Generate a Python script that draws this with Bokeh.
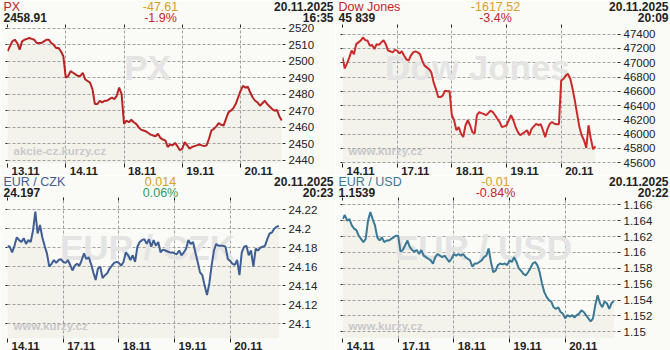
from bokeh.plotting import figure
from bokeh.models import Label, FixedTicker, LinearAxis, Range1d
from bokeh.core.properties import value
from bokeh.layouts import gridplot
from bokeh.embed import file_html
from bokeh.resources import INLINE

# ---------------- data ----------------
px_days = ["13.11", "14.11", "18.11", "19.11", "20.11"]
px_d1 = [2506, 2509, 2512, 2513, 2511, 2507, 2512, 2513, 2513.5, 2514, 2513.5, 2513, 2511, 2511, 2511, 2512, 2513, 2513, 2511, 2510, 2508, 2508, 2506, 2503]
px_d2 = [2490, 2491, 2494, 2493, 2492, 2491, 2491, 2493, 2489, 2488, 2487, 2483, 2474, 2474, 2476, 2475, 2476, 2476, 2477, 2478, 2477, 2479, 2484, 2480]
px_d3 = [2462, 2464, 2463, 2464.5, 2463, 2462, 2460, 2458.5, 2458, 2457.5, 2456.5, 2455.5, 2455, 2454.5, 2456, 2453.5, 2452.5, 2452, 2448, 2449.5, 2449, 2450.5, 2448.5, 2446]
px_d4 = [2447, 2451, 2449, 2447, 2448, 2448.5, 2449, 2449.5, 2449, 2448.5, 2449, 2453, 2458, 2459, 2460.5, 2462.5, 2461.5, 2461, 2465, 2469, 2470, 2471.5, 2474, 2478]
px_d5 = [2482, 2485, 2484, 2484.5, 2481, 2478, 2476, 2475, 2473, 2474.5, 2476, 2474, 2472.5, 2471, 2470, 2470.5, 2466.5, 2464]
px_ticks = [2440, 2450, 2460, 2470, 2480, 2490, 2500, 2510, 2520]
px_tick_labels = ["2440", "2450", "2460", "2470", "2480", "2490", "2500", "2510", "2520"]

dj_days = ["14.11", "17.11", "18.11", "19.11", "20.11"]
dj_d1 = [47075, 46920, 46990, 47075, 47170, 47120, 47260, 47285, 47310, 47355, 47315, 47310, 47240, 47250, 47190, 47260, 47250, 47285, 47315, 47260, 47170, 47160, 47145, 47180]
dj_d2 = [47170, 47130, 47160, 47100, 47050, 47030, 47100, 47145, 47160, 47145, 47120, 47030, 46960, 46935, 46910, 46865, 46725, 46635, 46520, 46520, 46540, 46610, 46600, 46600]
dj_d3 = [46265, 46195, 46055, 46100, 46010, 45960, 46125, 46195, 46125, 46030, 46010, 46265, 46310, 46295, 46285, 46265, 46295, 46330, 46310, 46265, 46215, 46170, 46100, 46110]
dj_d4 = [46125, 46195, 46265, 46195, 46100, 46030, 45985, 46010, 46030, 46055, 45985, 46075, 46110, 46145, 46125, 46140, 46055, 45960, 46075, 46145, 46170, 46145, 46140, 46140]
dj_d5 = [46750, 46775, 46820, 46845, 46775, 46635, 46470, 46285, 46100, 45985, 45915, 45810, 46125, 45940, 45790, 45830]
dj_ticks = [45600, 45800, 46000, 46200, 46400, 46600, 46800, 47000, 47200, 47400]
dj_tick_labels = ["45600", "45800", "46000", "46200", "46400", "46600", "46800", "47000", "47200", "47400"]

cz_days = ["14.11", "17.11", "18.11", "19.11", "20.11"]
cz_d1 = [24.182, 24.181, 24.175, 24.182, 24.191, 24.188, 24.186, 24.19, 24.184, 24.188, 24.186, 24.198, 24.218, 24.195, 24.204, 24.191, 24.182, 24.174, 24.16, 24.163, 24.167, 24.164, 24.167, 24.168]
cz_d2 = [24.165, 24.164, 24.167, 24.162, 24.156, 24.161, 24.163, 24.161, 24.167, 24.174, 24.168, 24.17, 24.163, 24.154, 24.146, 24.158, 24.16, 24.148, 24.151, 24.153, 24.158, 24.161, 24.164, 24.165]
cz_d3 = [24.164, 24.161, 24.165, 24.175, 24.172, 24.167, 24.172, 24.165, 24.181, 24.186, 24.188, 24.189, 24.184, 24.189, 24.181, 24.188, 24.182, 24.186, 24.175, 24.178, 24.177, 24.176, 24.175, 24.175]
cz_d4 = [24.174, 24.173, 24.177, 24.172, 24.175, 24.179, 24.188, 24.184, 24.186, 24.175, 24.165, 24.154, 24.151, 24.14, 24.13, 24.142, 24.161, 24.177, 24.184, 24.182, 24.182, 24.182, 24.181, 24.168]
cz_d5 = [24.166, 24.163, 24.162, 24.167, 24.151, 24.175, 24.181, 24.182, 24.172, 24.177, 24.16, 24.179, 24.177, 24.18, 24.181, 24.182, 24.189, 24.195, 24.196, 24.2, 24.202, 24.203]
cz_ticks = [24.1, 24.12, 24.14, 24.16, 24.18, 24.2, 24.22]
cz_tick_labels = ["24.1", "24.12", "24.14", "24.16", "24.18", "24.2", "24.22"]

us_days = ["14.11", "17.11", "18.11", "19.11", "20.11"]
us_d1 = [1.1642, 1.1647, 1.164, 1.1642, 1.1634, 1.163, 1.1628, 1.1621, 1.1617, 1.1613, 1.1617, 1.164, 1.1651, 1.1642, 1.1634, 1.1619, 1.1615, 1.1619, 1.1613, 1.1615, 1.1615, 1.1617, 1.1619, 1.1621]
us_d2 = [1.1621, 1.1601, 1.1603, 1.1609, 1.1615, 1.1607, 1.1603, 1.1601, 1.1603, 1.1598, 1.1603, 1.1596, 1.1594, 1.1592, 1.159, 1.1586, 1.1594, 1.1598, 1.1596, 1.1594, 1.1596, 1.1592, 1.1588, 1.1592]
us_d3 = [1.1598, 1.1596, 1.1598, 1.1596, 1.1598, 1.1594, 1.1592, 1.159, 1.1582, 1.1586, 1.1586, 1.1588, 1.159, 1.1594, 1.1596, 1.1605, 1.1588, 1.1575, 1.1577, 1.1584, 1.1586, 1.1585, 1.1586, 1.1584]
us_d4 = [1.159, 1.1588, 1.1594, 1.1588, 1.158, 1.1577, 1.1573, 1.1571, 1.1575, 1.158, 1.1586, 1.1588, 1.1584, 1.1575, 1.1561, 1.155, 1.1544, 1.154, 1.1538, 1.1531, 1.1529, 1.1531, 1.1525, 1.1523]
us_d5 = [1.1517, 1.1521, 1.1519, 1.1521, 1.1518, 1.1521, 1.1523, 1.1527, 1.1525, 1.1521, 1.1517, 1.1513, 1.1517, 1.1534, 1.1546, 1.1536, 1.1531, 1.1538, 1.1536, 1.1529, 1.1536, 1.1539]
us_ticks = [1.15, 1.152, 1.154, 1.156, 1.158, 1.16, 1.162, 1.164, 1.166]
us_tick_labels = ["1.15", "1.152", "1.154", "1.156", "1.158", "1.16", "1.162", "1.164", "1.166"]

SAMPLES_PER_DAY = 24

# ---------------- style ----------------
FONT = "Liberation Sans"
BG = "#fafaf6"
FILL = "#f3f3eb"
GRID = "#a0a0a0"
DARK = "#222222"
ORANGE = "#d9a021"
RED_TXT = "#c0262a"
GREEN_TXT = "#2e9a5e"
WM = "#e4e4e4"
WM_SMALL = "#c9c9c9"

FRAME_LEFT = 7
FRAME_BOTTOM = 163


def wm_label(p, cx, cy, text, color, size, align):
    p.add_layout(Label(x=cx - FRAME_LEFT, y=FRAME_BOTTOM - cy, x_units="screen", y_units="screen",
                       text=text, text_color=color, text_font=FONT, text_font_size=size,
                       text_font_style="bold", text_align=align,
                       text_baseline="middle", level="underlay"))


def txt(p, x, y, dx, dy, text, color=DARK, size="12px", style="normal", align="left"):
    p.text(x=[x], y=[y], text=[text], x_offset=dx, y_offset=dy,
           text_color=color, text_font=value(FONT), text_font_size=value(size),
           text_font_style=value(style), text_align=value(align), text_baseline=value("middle"),
           level="overlay")


def tick_axis(ax, ticker, out):
    ax.ticker = ticker
    ax.axis_line_color = None
    ax.major_tick_in = 0
    ax.major_tick_out = out
    ax.major_tick_line_color = "#222222"
    ax.minor_tick_line_color = None
    ax.major_label_text_font_size = "0px"
    ax.major_label_text_color = None
    ax.major_label_standoff = 0


def panel(days, day_labels, ticks, tick_labels, yr, x_end, right_border, top_border,
          line_color, title, title_color, val, change, pct, pct_color, date, time, wm, wm_small, wm_xy):
    xs, ys = [], []
    for d, vals in enumerate(days):
        for i, v in enumerate(vals):
            xs.append(d + i / SAMPLES_PER_DAY)
            ys.append(v)
    p = figure(width=335, height=175, output_backend="svg", toolbar_location=None,
               x_range=Range1d(0, x_end), y_range=Range1d(*yr),
               x_axis_location="below", y_axis_location="right",
               min_border_left=FRAME_LEFT, min_border_right=right_border,
               min_border_top=top_border, min_border_bottom=175 - FRAME_BOTTOM,
               background_fill_color=BG, border_fill_color=BG, outline_line_color=None)
    day_pos = list(range(len(day_labels)))

    area = p.varea(x=xs, y1=[yr[0]] * len(xs), y2=ys, fill_color=FILL)
    area.level = "image"
    p.xgrid.ticker = FixedTicker(ticks=day_pos)
    p.ygrid.ticker = FixedTicker(ticks=ticks)
    for g in (p.xgrid, p.ygrid):
        g.grid_line_color = GRID
        g.grid_line_dash = "3 2"
        g.grid_line_width = 1

    # right value axis
    ya = p.right[0]
    ya.ticker = FixedTicker(ticks=ticks)
    ya.major_label_overrides = dict(zip(ticks, tick_labels))
    ya.axis_line_color = None
    ya.major_tick_in = 0
    ya.major_tick_out = 3
    ya.major_tick_line_color = "#333333"
    ya.minor_tick_line_color = None
    ya.major_label_standoff = 3
    ya.major_label_text_font = FONT
    ya.major_label_text_font_size = "11.5px"
    ya.major_label_text_color = DARK

    # tick-mark-only axes
    tick_axis(p.below[0], FixedTicker(ticks=day_pos), 4)
    top = LinearAxis()
    tick_axis(top, FixedTicker(ticks=day_pos), 3)
    p.add_layout(top, "above")
    left = LinearAxis()
    tick_axis(left, FixedTicker(ticks=ticks), 2)
    p.add_layout(left, "left")

    wm_label(p, wm_xy[0], wm_xy[1], wm, WM, "35px", "center")
    wm_label(p, 13, 150, wm_small, WM_SMALL, "11.5px", "left")

    p.line(xs, ys, line_color=line_color, line_width=2)

    x0, y0 = 0, yr[0]
    for d, t in zip(day_pos, day_labels):
        txt(p, d, y0, 4, 7, t, size="11.5px", style="bold")

    def head(cx, cy, text, **kw):
        txt(p, x0, y0, cx - FRAME_LEFT, cy - FRAME_BOTTOM, text, **kw)

    head(3, 6, title, color=title_color, size="12.5px")
    head(3, 17, val, size="12px", style="bold")
    head(160, 6, change, color=ORANGE, size="12.5px", align="center")
    head(160, 17, pct, color=pct_color, size="12.5px", align="center")
    head(333, 6, date, size="12px", style="bold", align="right")
    head(333, 17, time, size="12px", style="bold", align="right")
    return p


p1 = panel([px_d1, px_d2, px_d3, px_d4, px_d5], px_days, px_ticks, px_tick_labels, (2438.0, 2520.4),
           4.72, 49, 27, "#b82424", "PX", "#b82424", "2458.91", "-47.61", "-1.9%", RED_TXT,
           "20.11.2025", "16:35", "PX", "akcie-cz.kurzy.cz", (147, 67))
p2 = panel([dj_d1, dj_d2, dj_d3, dj_d4, dj_d5], dj_days, dj_ticks, dj_tick_labels, (45590, 47493),
           5.03, 49, 27, "#cc2a2a", "Dow Jones", "#c42626", "45 839", "-1617.52", "-3.4%", RED_TXT,
           "20.11.2025", "20:09", "Dow Jones", "www.kurzy.cz", (142, 67))
p3 = panel([cz_d1, cz_d2, cz_d3, cz_d4, cz_d5], cz_days, cz_ticks, cz_tick_labels, (24.0842, 24.2298),
           4.94, 53, 25, "#3f5e94", "EUR / CZK", "#3f5e94", "24.197", "0.014", "0.06%", GREEN_TXT,
           "20.11.2025", "20:23", "EUR / CZK", "www.kurzy.cz", (147, 72))
p4 = panel([us_d1, us_d2, us_d3, us_d4, us_d5], us_days, us_ticks, us_tick_labels, (1.14916, 1.16654),
           4.94, 53, 25, "#3a7896", "EUR / USD", "#3a7896", "1.1539", "-0.01", "-0.84%", RED_TXT,
           "20.11.2025", "20:22", "EUR / USD", "www.kurzy.cz", (148, 72))

grid = gridplot([[p1, p2], [p3, p4]], toolbar_location=None)
open("out.html", "w").write(file_html(grid, INLINE))
